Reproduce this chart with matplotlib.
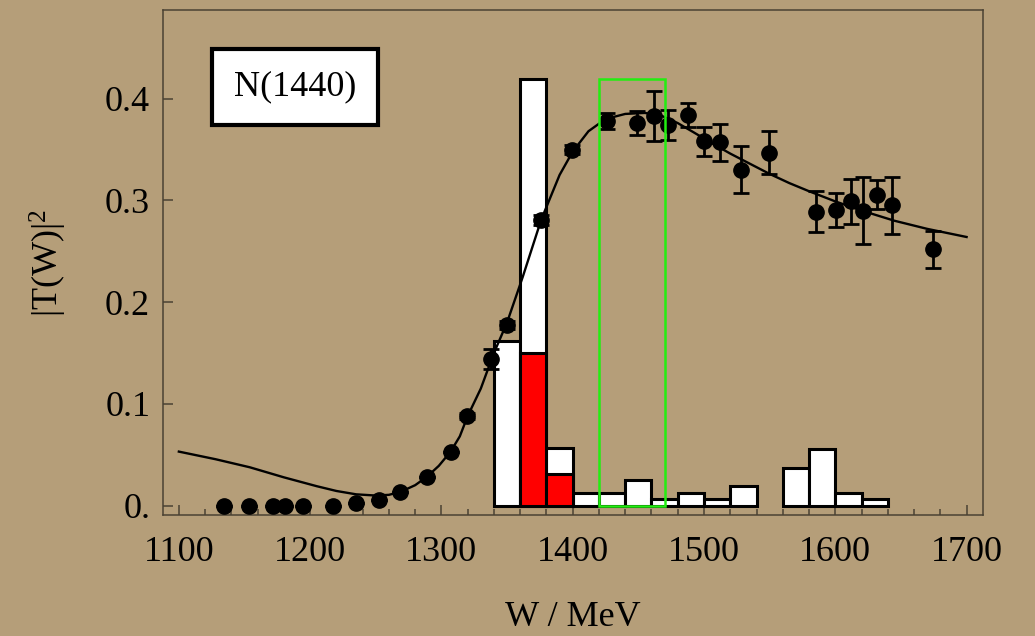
import numpy as np
import matplotlib.pyplot as plt
from matplotlib.patches import Rectangle

plt.rcParams['font.family'] = ['Liberation Serif', 'DejaVu Serif']
plt.rcParams['mathtext.fontset'] = 'custom'
plt.rcParams['mathtext.rm'] = 'Liberation Serif'
plt.rcParams['mathtext.it'] = 'Liberation Serif:italic'

# measured |T(W)|^2 with errors
w_data = [1134.4, 1153.7, 1171.5, 1180.9, 1194.8, 1217.2, 1235.0, 1252.7,
          1268.5, 1288.8, 1307.3, 1319.7, 1337.5, 1349.7, 1375.9, 1399.7,
          1426.4, 1449.0, 1462.0, 1472.3, 1487.8, 1500.2, 1512.4, 1528.2,
          1549.5, 1585.3, 1600.3, 1611.7, 1621.3, 1632.0, 1643.4, 1674.6]
t2_data = [0.0, 0.0, 0.0, 0.0, 0.0, 0.0, 0.002, 0.005,
           0.013, 0.028, 0.053, 0.088, 0.144, 0.1775, 0.281, 0.350,
           0.378, 0.376, 0.383, 0.374, 0.384, 0.358, 0.357, 0.330,
           0.347, 0.289, 0.2906, 0.299, 0.290, 0.3056, 0.295, 0.252]
t2_err = [0.0, 0.0, 0.0, 0.0, 0.0, 0.0, 0.0, 0.0,
          0.0, 0.0, 0.0, 0.003, 0.010, 0.004, 0.005, 0.004,
          0.008, 0.012, 0.025, 0.0145, 0.012, 0.0145, 0.018, 0.023,
          0.021, 0.020, 0.017, 0.022, 0.033, 0.014, 0.028, 0.018]

# fitted curve
w_fit = [1100, 1128, 1154, 1180, 1205, 1220, 1235, 1250, 1260, 1269, 1280,
         1289, 1298, 1307, 1314, 1320, 1330, 1340, 1350, 1362, 1376, 1390,
         1400, 1412, 1425, 1440, 1455, 1468, 1480, 1492, 1505, 1520, 1535,
         1550, 1565, 1580, 1600, 1620, 1645, 1670, 1700]
t2_fit = [0.053, 0.0455, 0.0376, 0.0277, 0.019, 0.0143, 0.011, 0.0098, 0.0105,
          0.0135, 0.020, 0.0283, 0.039, 0.053, 0.068, 0.088, 0.115, 0.150,
          0.180, 0.225, 0.281, 0.325, 0.348, 0.368, 0.380, 0.385, 0.386,
          0.383, 0.376, 0.367, 0.357, 0.346, 0.336, 0.326, 0.317, 0.309,
          0.299, 0.290, 0.280, 0.272, 0.264]

# histogram of the resonance contribution (20 MeV bins)
bin_left = [1340, 1360, 1380, 1400, 1420, 1440, 1460, 1480, 1500, 1520,
            1560, 1580, 1600, 1620]
bin_total = [0.162, 0.419, 0.0562, 0.0126, 0.0126, 0.0248, 0.0061, 0.0126,
             0.0061, 0.0189, 0.0372, 0.0559, 0.0126, 0.0061]
bin_red = [0.0, 0.150, 0.0307, 0.0, 0.0, 0.0, 0.0, 0.0,
           0.0, 0.0, 0.0, 0.0, 0.0, 0.0]
bin_width = 20

# energy window
window_w = [1420, 1470]
window_top = 0.419

bg = '#b59e79'
ink = '#4a4233'

fig = plt.figure(figsize=(10.35, 6.36), dpi=100, facecolor=bg)
ax = fig.add_axes([0.1572, 0.1903, 0.7923, 0.7940])
ax.set_facecolor(bg)

ax.bar(bin_left, bin_total, width=bin_width, align='edge', color='white',
       edgecolor='black', linewidth=2.2, zorder=2)
red_idx = [i for i, v in enumerate(bin_red) if v > 0]
ax.bar([bin_left[i] for i in red_idx], [bin_red[i] for i in red_idx],
       width=bin_width, align='edge', color='#ff0000', edgecolor='black',
       linewidth=2.2, zorder=3)

ax.plot(w_fit, t2_fit, color='black', linewidth=1.7, zorder=4)

ax.errorbar(w_data, t2_data, yerr=t2_err, fmt='o', color='black',
            markersize=11, elinewidth=2.0, capsize=6, capthick=2.0, zorder=5)

ax.add_patch(Rectangle((window_w[0], 0), window_w[1] - window_w[0], window_top,
                       fill=False, edgecolor='#22ee11', linewidth=1.8, zorder=6))

ax.text(0.1615, 0.847, 'N(1440)', transform=ax.transAxes, fontsize=26,
        ha='center', va='center', zorder=7,
        bbox=dict(boxstyle='square,pad=0.6', facecolor='white',
                  edgecolor='black', linewidth=3.0))

ax.set_xlim(1087.7, 1712.3)
ax.set_ylim(-0.0093, 0.4872)
ax.set_xticks([1100, 1200, 1300, 1400, 1500, 1600, 1700])
ax.set_xticks(np.arange(1100, 1701, 20), minor=True)
ax.set_yticks([0, 0.1, 0.2, 0.3, 0.4])
ax.set_yticklabels(['0.', '0.1', '0.2', '0.3', '0.4'])

ax.tick_params(axis='both', which='both', direction='in', color=ink,
               labelsize=26, labelcolor='black', width=1.1)
ax.tick_params(axis='x', which='major', length=7, pad=15)
ax.tick_params(axis='x', which='minor', length=4)
ax.tick_params(axis='y', which='major', length=7, pad=9)
for s in ax.spines.values():
    s.set_color(ink)
    s.set_linewidth(1.1)

ax.set_xlabel('W / MeV', fontsize=26, labelpad=23)
ax.set_ylabel('|T(W)|$^{2}$', fontsize=26, labelpad=26)

fig.savefig('out.png', dpi=100, facecolor=bg)
